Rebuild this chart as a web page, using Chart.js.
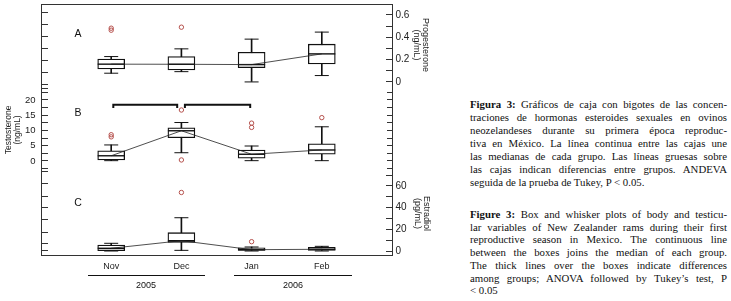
<!DOCTYPE html>
<html><head><meta charset="utf-8">
<script src="https://cdn.jsdelivr.net/npm/chart.js@4.4.1/dist/chart.umd.min.js"></script>
<style>
body{margin:0;background:#fff;}
#wrap{position:relative;width:731px;height:301px;overflow:hidden;background:#fff;}
#c{position:absolute;left:0;top:-10px;}
.lbl{position:absolute;font-family:"Liberation Sans",Arial,sans-serif;color:#111;transform:translate(-50%,-50%);white-space:nowrap;}
.panel{font-size:10.5px;}
.year{font-size:9px;}
.yline{position:absolute;height:0;border-top:1px solid #111;}
.cap{position:absolute;left:470px;width:257px;font-family:"Liberation Serif","Times New Roman",serif;font-size:10.8px;line-height:13px;color:#111;}
.cap div{text-align:justify;text-align-last:justify;}
.cap div.last{text-align-last:left;}
</style>
</head><body>
<div id="wrap">
<canvas id="c" width="440" height="311"></canvas>
<div class="lbl panel" style="left:78px;top:33px">A</div>
<div class="lbl panel" style="left:78px;top:112px">B</div>
<div class="lbl panel" style="left:78px;top:202px">C</div>
<div class="yline" style="left:88px;top:275px;width:117px"></div>
<div class="yline" style="left:234px;top:275px;width:118px"></div>
<div class="lbl year" style="left:146px;top:285px">2005</div>
<div class="lbl year" style="left:293px;top:285px">2006</div>
<div class="cap" style="top:98px">
<div><b>Figura 3:</b> Gráficos de caja con bigotes de las concen-</div>
<div>traciones de hormonas esteroides sexuales en ovinos</div>
<div>neozelandeses durante su primera época reproduc-</div>
<div>tiva en México. La línea continua entre las cajas une</div>
<div>las medianas de cada grupo. Las líneas gruesas sobre</div>
<div>las cajas indican diferencias entre grupos. ANDEVA</div>
<div class="last">seguida de la prueba de Tukey, P &lt; 0.05.</div>
</div>
<div class="cap" style="top:208px;line-height:12.7px">
<div><b>Figure 3:</b> Box and whisker plots of body and testicu-</div>
<div>lar variables of New Zealander rams during their first</div>
<div>reproductive season in Mexico. The continuous line</div>
<div>between the boxes joins the median of each group.</div>
<div>The thick lines over the boxes indicate differences</div>
<div>among groups; ANOVA followed by Tukey’s test, P</div>
<div class="last">&lt; 0.05</div>
</div>
</div>
<script>
const categories = ['Nov','Dec','Jan','Feb'];
const catPos = [1,2,3,4];

// Panel A: progesterone (ng/mL)
const progMin = [0.078,0.092,0.000,0.057];
const progQ1  = [0.117,0.108,0.128,0.161];
const progMed = [0.159,0.158,0.155,0.251];
const progQ3  = [0.204,0.227,0.266,0.338];
const progMax = [0.227,0.296,0.383,0.446];
const progOutCat = [1,1,2];
const progOutVal = [0.481,0.463,0.490];

// Panel B: testosterone (ng/mL)
const testMin = [0.1,2.7,0.1,0.1];
const testQ1  = [0.33,7.6,0.9,2.2];
const testMed = [1.7,9.9,2.2,3.6];
const testQ3  = [3.3,10.9,3.6,5.6];
const testMax = [5.25,12.6,4.9,11.2];
const testOutCat = [1,1,2,2,3,3,4];
const testOutVal = [8.6,7.9,16.7,0.33,12.4,11.0,14.2];

// Panel C: estradiol (pg/mL)
const estrMin = [0,0.6,0,0];
const estrQ1  = [0.3,8.0,0,0.6];
const estrMed = [2.5,9.5,1.2,1.6];
const estrQ3  = [5.5,16.9,3.0,3.4];
const estrMax = [7.1,30.7,3.7,4.3];
const estrOutCat = [2,3];
const estrOutVal = [54,8.6];

// significance brackets (testosterone units)
const bracketFrom = [1.03,2.05];
const bracketTo   = [1.94,2.98];
const bracketTop = 18.4, bracketFoot = 17.4;

// ticks
const progTicks = [0,0.1,0.2,0.3,0.4,0.5,0.6];
const progLabels = [0,0.2,0.4,0.6];
const testTicks = [48.5,44.6,40.7,36.7,32.8,28.9,24.9,23.9,22.6,20,17.5,15,12.5,10,7.5,5,2.5,0,-2.5,-3.6,-7.5,-11.5,-15.4,-19.3,-23.3,-27.2,-29.5];
const testLabels = [0,5,10,15,20];
const testRightTicks = [22.5,20,17.5,15,12.5,10,7.5,5,2.5,0,-2.5];
const estrTicks = [0,10,20,30,40,50,60,70];
const estrLabels = [0,20,40,60];

const FONT = '"Liberation Sans", Arial, sans-serif';
const INK = '#111';
const OUT = '#b5504c';

function boxSets(axis, lo, q1, med, q3, hi, outCat, outVal){
  return [
    {type:'bar', xAxisID:'x', yAxisID:axis, data:catPos.map((x,i)=>({x, y:[q1[i],q3[i]]})),
      backgroundColor:'#fff', borderColor:INK, borderWidth:1.3, borderSkipped:false, barThickness:27, grouped:false, order:5},
    {type:'bar', xAxisID:'x', yAxisID:axis, data:catPos.map((x,i)=>({x, y:[lo[i],hi[i]]})),
      backgroundColor:INK, borderWidth:0, barThickness:1, grouped:false, order:7},
    {type:'line', xAxisID:'x', yAxisID:axis, showLine:false, data:catPos.flatMap((x,i)=>[{x,y:lo[i]},{x,y:hi[i]}]),
      pointStyle:'line', pointRadius:7, pointBorderColor:INK, pointBorderWidth:1, order:6},
    {type:'line', xAxisID:'x', yAxisID:axis, showLine:false, data:catPos.map((x,i)=>({x,y:med[i]})),
      pointStyle:'line', pointRadius:13.5, pointBorderColor:INK, pointBorderWidth:1.4, order:2},
    {type:'line', xAxisID:'x', yAxisID:axis, data:catPos.map((x,i)=>({x,y:med[i]})),
      borderColor:'#222', borderWidth:0.8, pointRadius:0, tension:0, order:1},
    {type:'line', xAxisID:'x', yAxisID:axis, showLine:false, data:outCat.map((x,i)=>({x,y:outVal[i]})),
      pointStyle:'circle', pointRadius:2.2, pointBorderColor:OUT, pointBackgroundColor:'rgba(0,0,0,0)', pointBorderWidth:1, order:0}
  ];
}

const datasets = [
  ...boxSets('yA', progMin, progQ1, progMed, progQ3, progMax, progOutCat, progOutVal),
  ...boxSets('yB', testMin, testQ1, testMed, testQ3, testMax, testOutCat, testOutVal),
  ...boxSets('yC', estrMin, estrQ1, estrMed, estrQ3, estrMax, estrOutCat, estrOutVal),
  {type:'line', xAxisID:'x', yAxisID:'yB',
    data:bracketFrom.flatMap((f,i)=>[{x:f,y:bracketFoot},{x:f,y:bracketTop},{x:bracketTo[i],y:bracketTop},{x:bracketTo[i],y:bracketFoot},{x:bracketTo[i],y:null}]),
    borderColor:INK, borderWidth:2, pointRadius:0, spanGaps:false, tension:0, borderJoinStyle:'miter', order:1}
];

function tickGrid(len){
  return {display:true, drawOnChartArea:false, drawTicks:true, tickLength:len, tickColor:'#333', tickWidth:1};
}
const fmt = v => v===0 ? '0' : (Math.abs(v)<1 ? v.toFixed(1) : String(v));
function fitTo(w, h){
  return ax => {
    if (w !== null) ax.width = w;
    if (h !== null) ax.height = h;
    ax.paddingTop = 0; ax.paddingBottom = 0; ax.paddingLeft = 0; ax.paddingRight = 0;
  };
}

new Chart(document.getElementById('c'), {
  data:{datasets},
  options:{
    responsive:false, animation:false, devicePixelRatio:1,
    layout:{padding:{top:5,left:0,right:0,bottom:0}},
    plugins:{legend:{display:false}, tooltip:{enabled:false}},
    scales:{
      x:{type:'linear', position:'bottom', min:0, max:5, offset:false,
        afterBuildTicks:ax=>{ax.ticks = catPos.map(v=>({value:v}));},
        ticks:{callback:v=>categories[catPos.indexOf(v)] ?? '', font:{family:FONT,size:9}, color:'#222', padding:-2, maxRotation:0, autoSkip:false},
        grid:{display:false, offset:false}, border:{display:true,color:'#333',width:1},
        afterFit:fitTo(null,46)},
      xTop:{type:'linear', position:'top', min:0, max:5, offset:false,
        ticks:{display:false}, grid:{display:false}, border:{display:true,color:'#333',width:1},
        afterFit:fitTo(null,0)},
      yB:{type:'linear', position:'left', min:-30.82, max:51.15,
        afterBuildTicks:ax=>{ax.ticks = testTicks.map(v=>({value:v}));},
        ticks:{callback:v=>testLabels.includes(v)?String(v):'', font:{family:FONT,size:9.5}, color:'#222', padding:12.5, autoSkip:false},
        grid:tickGrid(-7), border:{display:true,color:'#333',width:1},
        title:{display:true, text:['Testosterone','(ng/mL)'], font:{family:FONT,size:8.5,lineHeight:1.15}, color:'#222', padding:{top:3.4,bottom:0}},
        afterFit:fitTo(41,null)},
      yA:{type:'linear', position:'right', stack:'right', stackWeight:80, weight:0, min:-0.0269, max:0.6894,
        afterBuildTicks:ax=>{ax.ticks = progTicks.map(v=>({value:v}));},
        ticks:{callback:v=>progLabels.includes(v)?fmt(v):'', font:{family:FONT,size:10}, color:'#222', padding:9.5, autoSkip:false},
        grid:tickGrid(-6), border:{display:true,color:'#333',width:1},
        title:{display:true, text:['Progesterone','(ng/mL)'], font:{family:FONT,size:9,lineHeight:0.95}, color:'#222', padding:{top:10.7,bottom:0}},
        afterFit:fitTo(48,null)},
      yBR:{type:'linear', position:'right', stack:'right', stackWeight:87, weight:1, min:-3.61, max:24.92,
        afterBuildTicks:ax=>{ax.ticks = testRightTicks.map(v=>({value:v}));},
        ticks:{display:false},
        grid:tickGrid(-5), border:{display:true,color:'#333',width:1},
        afterFit:fitTo(48,null)},
      yC:{type:'linear', position:'right', stack:'right', stackWeight:83, weight:2, min:-3.69, max:72.92,
        afterBuildTicks:ax=>{ax.ticks = estrTicks.map(v=>({value:v}));},
        ticks:{callback:v=>estrLabels.includes(v)?String(v):'', font:{family:FONT,size:10}, color:'#222', padding:9.5, autoSkip:false},
        grid:tickGrid(-6), border:{display:true,color:'#333',width:1},
        title:{display:true, text:['Estradiol','(pg/mL)'], font:{family:FONT,size:9,lineHeight:1.03}, color:'#222', padding:{top:8.4,bottom:0}},
        afterFit:fitTo(48,null)}
    }
  }
});
</script>
</body></html>
